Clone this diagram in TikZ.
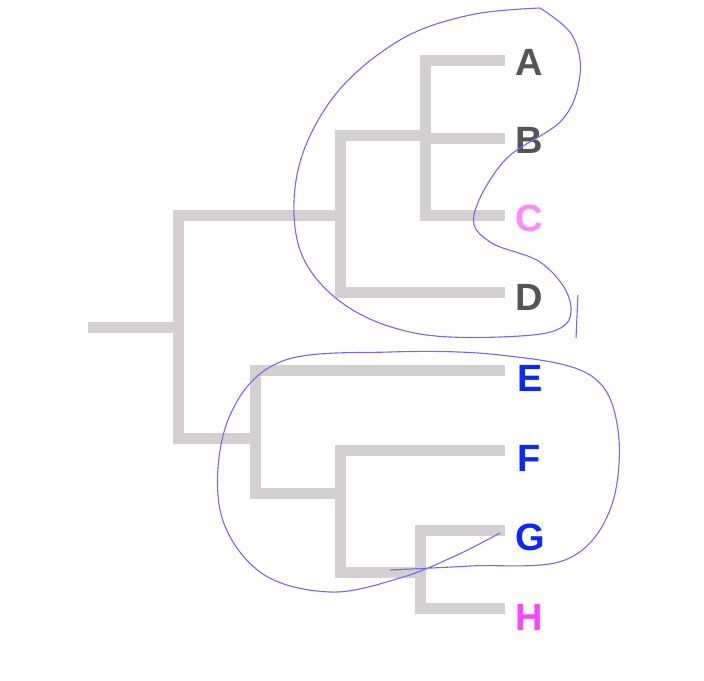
\documentclass[tikz,border=0pt]{standalone}
\usepackage{fontspec}
\setmainfont{Liberation Sans}
\definecolor{br}{HTML}{D2D0D0}
\definecolor{lg}{HTML}{555555}
\definecolor{lb}{HTML}{0A28FF}
\definecolor{lp}{HTML}{FF88FF}
\definecolor{lm}{HTML}{FF44FF}
\definecolor{pen}{HTML}{7766EE}
\begin{document}
\begin{tikzpicture}[x=1pt,y=-1pt,
  branch/.style={draw=br,line width=11pt,line cap=butt,line join=miter},
  tip/.style={font=\bfseries\fontsize{38}{40}\selectfont,anchor=west,inner sep=0pt},
  loop/.style={draw=pen,line width=1.1pt}]
\useasboundingbox (0,0) rectangle (704,680);
% coordinates
\coordinate (r0) at (88,327);
\coordinate (r1) at (178,327);
\coordinate (n1) at (178,215);
\coordinate (n2) at (178,438);
\node[tip,text=lg] (A) at (515,62) {A};
\node[tip,text=lg] (B) at (515,140) {B};
\node[tip,text=lp] (C) at (515,218) {C};
\node[tip,text=lg] (D) at (515,297) {D};
\node[tip,text=lb] (E) at (517,378) {E};
\node[tip,text=lb] (F) at (517,458) {F};
\node[tip,text=lb] (G) at (515,537) {G};
\node[tip,text=lm] (H) at (515,617) {H};
% tree
\draw[branch] (r0) -- (r1);
\draw[branch] (340,215) -- (n1) -- (n2) -- (255,438);
\draw[branch] (425,135) -- (340,135) -- (340,292) -- (505,292);
\draw[branch] (505,60) -- (425,60) -- (425,215) -- (505,215);
\draw[branch] (425,138) -- (505,138);
\draw[branch] (505,370) -- (255,370) -- (255,493) -- (340,493);
\draw[branch] (505,450) -- (340,450) -- (340,572) -- (420,572);
\draw[branch] (505,530) -- (420,530) -- (420,608) -- (505,608);
% hand-drawn loops
\draw[loop] plot[smooth,tension=0.6] coordinates {(540,8) (572,35) (580,75) (562,120) (505,160) (474,215) (490,242) (540,262) (568,295) (565,325) (520,336) (420,334) (345,305) (300,250) (298,170) (335,95) (400,40) (470,15) (540,8)};
\draw[loop] (578,295) -- (576,338);
\draw[loop] plot[smooth,tension=0.6] coordinates {(390,570) (470,566) (565,560) (610,510) (618,430) (590,375) (500,355) (390,352) (280,362) (228,420) (220,510) (260,572) (330,592) (400,578) (455,556) (500,533)};
\end{tikzpicture}
\end{document}
